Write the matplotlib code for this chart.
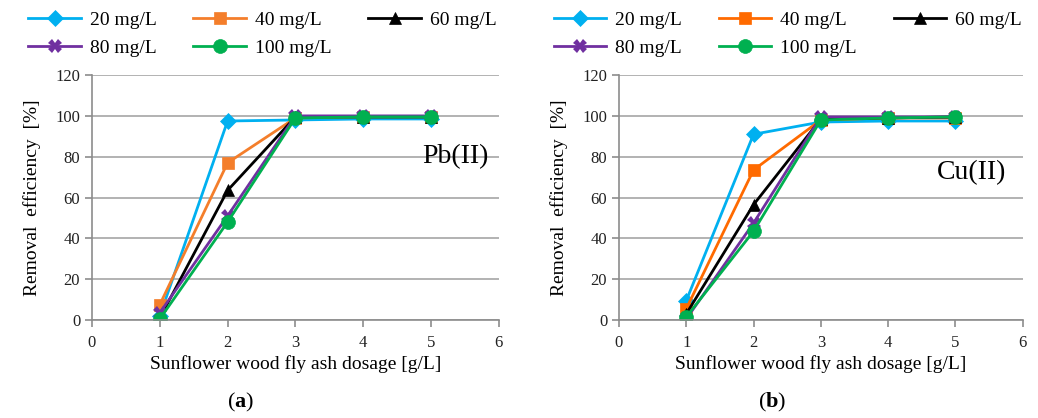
import matplotlib.pyplot as plt

plt.rcParams['font.family'] = ['Liberation Serif', 'DejaVu Serif']
plt.rcParams['mathtext.fontset'] = 'custom'
plt.rcParams['mathtext.rm'] = 'Liberation Serif'
plt.rcParams['mathtext.bf'] = 'Liberation Serif:bold'

dosage = [1, 2, 3, 4, 5]
labels = ['20 mg/L', '40 mg/L', '60 mg/L', '80 mg/L', '100 mg/L']

pb_20 = [2.0, 97.5, 98.0, 98.5, 98.5]
pb_40 = [7.5, 77.0, 99.0, 99.5, 99.5]
pb_60 = [1.0, 63.5, 99.5, 99.5, 99.5]
pb_80 = [3.5, 51.0, 100.0, 100.0, 100.0]
pb_100 = [0.5, 48.0, 99.0, 99.5, 99.5]

cu_20 = [9.5, 91.0, 97.0, 97.5, 97.5]
cu_40 = [5.5, 73.5, 98.0, 99.0, 99.0]
cu_60 = [3.0, 56.5, 98.5, 99.0, 99.5]
cu_80 = [0.5, 47.5, 99.5, 99.5, 99.5]
cu_100 = [1.5, 43.5, 98.0, 99.0, 99.5]

colors_a = ['#00B0F0', '#F47E2B', '#000000', '#7030A0', '#00B050']
colors_b = ['#00B0F0', '#FF6A00', '#000000', '#7030A0', '#00B050']
markers = ['D', 's', '^', 'X', 'o']
msizes = [8, 9, 9, 10, 10]

fig = plt.figure(figsize=(10.38, 4.18), dpi=100)
ax1 = fig.add_axes([0.0886, 0.2344, 0.392, 0.586])
ax2 = fig.add_axes([0.5963, 0.2344, 0.389, 0.586])


def draw(ax, series, colors, tag, tag_xy, sub, sub_x, leg_x):
    for ys, lab, c, m, ms in zip(series, labels, colors, markers, msizes):
        ax.plot(dosage, ys, color=c, marker=m, markersize=ms, linewidth=2,
                label=lab, markeredgewidth=0.5 if m != 'X' else 0)
    ax.set_xlim(0, 6)
    ax.set_ylim(0, 120)
    ax.set_xticks(range(0, 7))
    ax.set_yticks(range(0, 121, 20))
    ax.grid(axis='y', color='#a6a6a6', linewidth=1.2)
    ax.set_axisbelow(True)
    for s in ['top', 'right']:
        ax.spines[s].set_visible(False)
    for s in ['left', 'bottom']:
        ax.spines[s].set_color('#8c8c8c')
        ax.spines[s].set_linewidth(1.2)
    ax.tick_params(axis='both', colors='#8c8c8c', labelcolor='#222222',
                   labelsize=12, length=5, width=1.2)
    ax.tick_params(axis='x', pad=6)
    ax.set_xlabel('Sunflower wood fly ash dosage [g/L]', fontsize=14, labelpad=3)
    ax.set_ylabel('Removal  efficiency  [%]', fontsize=14, labelpad=10)
    ax.text(tag_xy[0], tag_xy[1], tag, fontsize=20, ha='right', va='center')
    fig.text(sub_x, 0.025, r'($\mathbf{' + sub + '}$)', fontsize=16, ha='center')
    lines = ax.get_lines()
    order = [0, 3, 1, 4, 2]
    fig.legend([lines[i] for i in order], [labels[i] for i in order],
               loc='upper left', bbox_to_anchor=(leg_x, 0.997),
               ncol=3, frameon=False, fontsize=14, handlelength=2.7,
               handletextpad=0.45, columnspacing=1.9, labelspacing=0.55,
               borderpad=0)


draw(ax1, [pb_20, pb_40, pb_60, pb_80, pb_100], colors_a, 'Pb(II)', (5.85, 80), 'a', 0.232, 0.018)
draw(ax2, [cu_20, cu_40, cu_60, cu_80, cu_100], colors_b, 'Cu(II)', (5.75, 72), 'b', 0.744, 0.524)

fig.savefig('out.png', dpi=100)
